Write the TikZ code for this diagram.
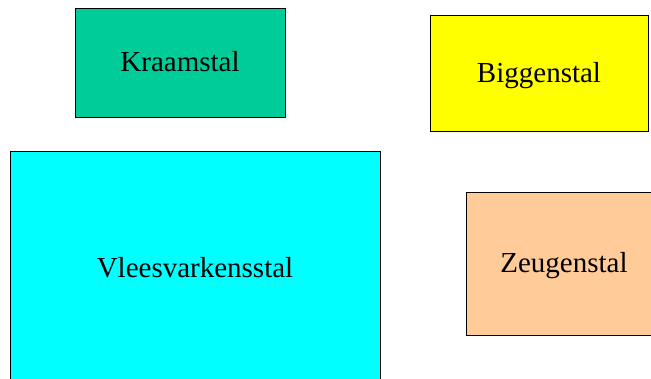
\documentclass[tikz,border=0pt]{standalone}
\usepackage{fontspec}
\setmainfont{Liberation Serif}
\usepackage{tikz}
\usetikzlibrary{positioning}
\definecolor{kraamgreen}{HTML}{00CC99}
\definecolor{vleescyan}{HTML}{00FFFF}
\definecolor{biggenyellow}{HTML}{FFFF00}
\definecolor{zeugenpeach}{HTML}{FFCC99}
\tikzset{
    stal/.style={draw=black, line width=0.8pt, rectangle, inner sep=0pt,
        text height=19pt, text depth=0pt,
        font=\fontsize{29}{34}\selectfont}
}
\begin{document}
\begin{tikzpicture}[x=1pt, y=-1pt]
    % Page frame
    \useasboundingbox (0,0) rectangle (651,379);
    \clip (0,0) rectangle (651,379);
    % Top row
    \node[stal, fill=kraamgreen, minimum width=210pt, minimum height=109pt] (kraam) at (180,62.5) {Kraamstal};
    \node[stal, fill=biggenyellow, minimum width=218pt, minimum height=116pt] (biggen) at (539,73) {Biggenstal};
    % Bottom row
    \node[stal, fill=vleescyan, minimum width=370pt, minimum height=235pt] (vlees) at (195,268.5) {Vleesvarkensstal};
    \node[stal, fill=zeugenpeach, minimum width=196pt, minimum height=143pt] (zeugen) at (564,263.5) {Zeugenstal};
\end{tikzpicture}
\end{document}
